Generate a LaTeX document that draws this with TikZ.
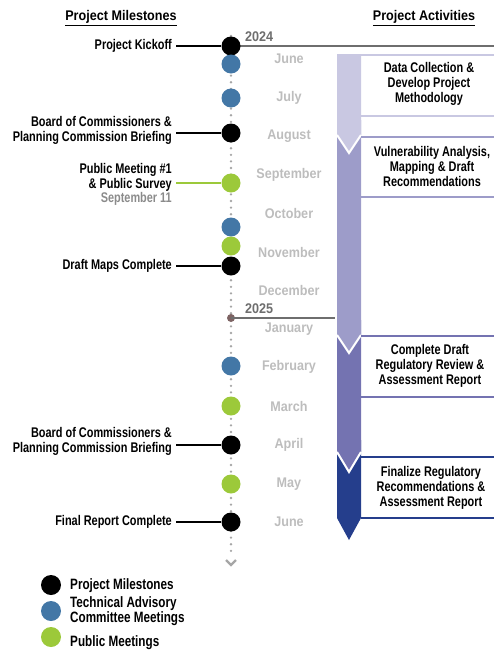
\documentclass[tikz,border=0pt]{standalone}
\usepackage{fontspec}
\setmainfont[FakeStretch=0.78]{Liberation Sans}
\newfontfamily\widefont[FakeStretch=0.9]{Liberation Sans}
\usetikzlibrary{positioning}
\definecolor{tacblue}{HTML}{4377A6}
\definecolor{pubgreen}{HTML}{9CC93A}
\definecolor{monthgray}{HTML}{BDBDBD}
\definecolor{yeargray}{HTML}{6E6E6E}
\definecolor{dotgray}{HTML}{A6A6A6}
\definecolor{actA}{HTML}{C9C8E2}
\definecolor{actB}{HTML}{9D9CC9}
\definecolor{actC}{HTML}{7473B1}
\definecolor{actD}{HTML}{253E8C}
\tikzset{
  txt/.style={font=\bfseries\fontsize{14}{15}\selectfont, inner sep=0pt},
  wide/.style={font=\widefont\bfseries\fontsize{14}{15}\selectfont, inner sep=0pt},
  mlabel/.style={txt, anchor=east, align=right},
  alabel/.style={txt, align=center},
  legtxt/.style={font=\bfseries\fontsize{15}{15.5}\selectfont, inner sep=0pt, anchor=west, align=left},
  month/.style={wide, text=monthgray},
  year/.style={wide, text=yeargray, anchor=west},
  tlDot/.style={circle, inner sep=0pt, minimum size=19pt},
  legDot/.style={circle, inner sep=0pt, minimum size=20pt},
  link/.style={line width=1.4pt}
}
\begin{document}
\begin{tikzpicture}[x=1pt,y=-1pt]
  \useasboundingbox (0,0) rectangle (494,654);
  % headers
  \node[wide] (hms) at (121,18) {\underline{Project Milestones}};
  \node[wide] (hact) at (424,18) {\underline{Project Activities}};

  % activity arrows, last one first
  \fill[actD] (337,440) -- (361,440) -- (361,518) -- (349,540) -- (337,518) -- cycle;
  \fill[actC] (337,320) -- (361,320) -- (361,452) -- (349,472) -- (337,452) -- cycle;
  \draw[white, line width=2pt] (337,452) -- (349,472) -- (361,452);
  \fill[actB] (337,120) -- (361,120) -- (361,335) -- (349,353) -- (337,335) -- cycle;
  \draw[white, line width=2pt] (337,335) -- (349,353) -- (361,335);
  \fill[actA] (337,54) -- (361,54) -- (361,135) -- (349,153) -- (337,135) -- cycle;
  \draw[white, line width=2pt] (337,135) -- (349,153) -- (361,135);

  % activity boxes
  \draw[actA, line width=2.5pt] (361,55) -- (494,55) (361,116) -- (494,116);
  \draw[actB, line width=2.5pt] (361,137) -- (494,137) (361,197) -- (494,197);
  \draw[actC, line width=2.5pt] (361,336) -- (494,336) (361,397) -- (494,397);
  \draw[actD, line width=2.5pt] (361,457) -- (494,457) (361,518) -- (494,518);
  \node[alabel] (act1) at (429,84) {Data Collection \&\\Develop Project\\Methodology};
  \node[alabel] (act2) at (432,166) {Vulnerability Analysis,\\Mapping \& Draft\\Recommendations};
  \node[alabel] (act3) at (430,366) {Complete Draft\\Regulatory Review \&\\Assessment Report};
  \node[alabel] (act4) at (431,488) {Finalize Regulatory\\Recommendations \&\\Assessment Report};

  % timeline
  \draw[dotgray, line width=2.6pt, line cap=round, dash pattern=on 0pt off 6.6pt] (231,36) -- (231,556);
  \draw[dotgray, line width=2.4pt] (226,560) -- (231,565) -- (236,560);

  % years
  \node[year] (y24) at (245,37) {2024};
  \node[year] (y25) at (245,309) {2025};
  \node[circle, fill=yeargray!90!red, inner sep=0pt, minimum size=8pt] (d25) at (231,318) {};
  \draw[yeargray, line width=1.1pt] (d25.center) -- (335,318);

  % months
  \foreach \m/\y in {June/59, July/98, August/136, September/175, October/213,
                     November/252, December/290, January/329, February/367,
                     March/406, April/445, May/484, June/522}
    \node[month] at (289,\y) {\m};

  % dots
  \coordinate (c24) at (231,46);
  \draw[yeargray, line width=1.1pt] (c24) -- (494,46);
  \foreach \n/\c/\y in {kick/black/46, t1/tacblue/64, t2/tacblue/98, bc1/black/133,
                        pm1/pubgreen/183, t3/tacblue/227, pm2/pubgreen/246,
                        maps/black/266, t4/tacblue/366, pm3/pubgreen/406,
                        bc2/black/445, pm4/pubgreen/484, fin/black/522}
    \node[tlDot, fill=\c] (d\n) at (231,\y) {};

  % milestones
  \node[mlabel] (lkick) at (172,46) {Project Kickoff};
  \node[mlabel] (lbc1) at (172,130) {Board of Commissioners \&\\Planning Commission Briefing};
  \node[mlabel] (lpm1) at (172,177) {Public Meeting \#1\\\& Public Survey};
  \node[mlabel, text=yeargray!80] (lsep) at (172,199) {September 11};
  \node[mlabel] (lmaps) at (172,266) {Draft Maps Complete};
  \node[mlabel] (lbc2) at (172,441) {Board of Commissioners \&\\Planning Commission Briefing};
  \node[mlabel] (lfin) at (172,522) {Final Report Complete};
  \draw[link] ([xshift=4pt]lkick.east) -- (dkick.west);
  \draw[link] ([xshift=4pt]lbc1.east |- dbc1) -- (dbc1.west);
  \draw[link, pubgreen] ([xshift=4pt]lpm1.east |- dpm1) -- (dpm1.west);
  \draw[link] ([xshift=4pt]lmaps.east) -- (dmaps.west);
  \draw[link] ([xshift=4pt]lbc2.east |- dbc2) -- (dbc2.west);
  \draw[link] ([xshift=4pt]lfin.east) -- (dfin.west);

  % legend
  \node[legDot, fill=black] (kblack) at (51,585) {};
  \node[legDot, fill=tacblue] (kblue) at (51,611) {};
  \node[legDot, fill=pubgreen] (kgreen) at (51,637) {};
  \node[legtxt] (tblack) at (70,586) {Project Milestones};
  \node[legtxt] (tblue) at (70,611) {Technical Advisory\\Committee Meetings};
  \node[legtxt] (tgreen) at (70,643) {Public Meetings};
\end{tikzpicture}
\end{document}
